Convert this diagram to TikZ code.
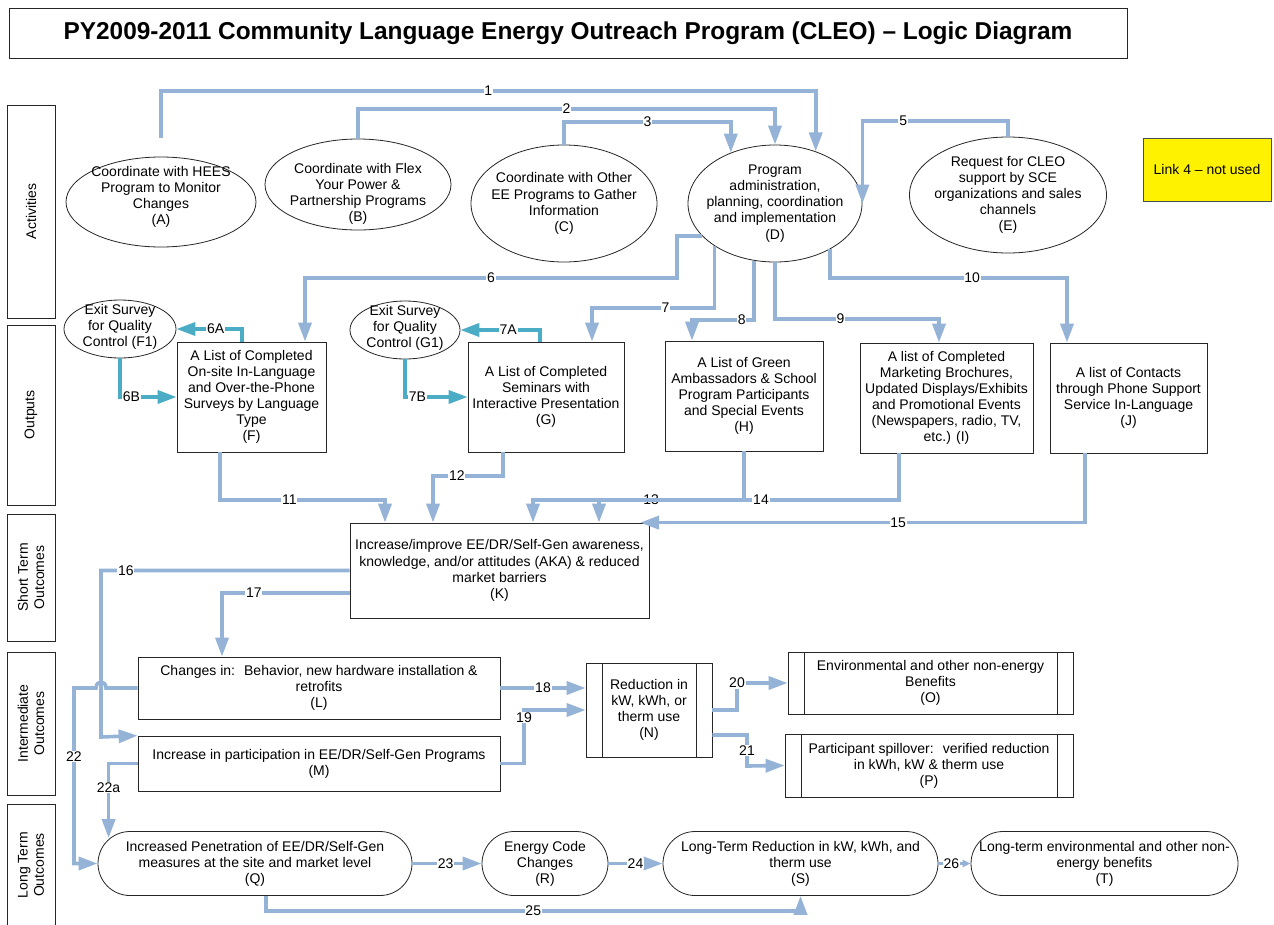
\documentclass[tikz,border=0pt]{standalone}
\usepackage{fontspec}
\setmainfont{Liberation Sans}
\usetikzlibrary{arrows.meta,shapes.geometric,calc}
\tikzset{>={Triangle[length=19pt,width=13pt]}}
\definecolor{linkblue}{RGB}{149,179,215}
\definecolor{qcteal}{RGB}{75,172,198}
\newcommand\diagfont{\fontsize{14}{16.1}\selectfont}
\tikzset{
  actv/.style 2 args={ellipse, draw=black!85, line width=0.8pt, minimum width=#1, minimum height=#2, inner sep=0pt},
  txt/.style={align=center, font=\diagfont, inner sep=0pt},
  outbox/.style 2 args={draw=black!85, line width=0.8pt, minimum width=#1, minimum height=#2, align=center, font=\diagfont, inner sep=2pt},
  proc/.style 2 args={outbox={#1}{#2}, path picture={
      \draw[black!85, line width=0.8pt]
        ([xshift=16pt]path picture bounding box.north west) -- ([xshift=16pt]path picture bounding box.south west)
        ([xshift=-16pt]path picture bounding box.north east) -- ([xshift=-16pt]path picture bounding box.south east);}},
  ltout/.style={outbox={#1}{64pt}, rounded corners=32pt, inner sep=0pt},
  lane/.style={draw=black!85, line width=0.8pt, rotate=90, minimum height=48pt, align=center, font=\diagfont, inner sep=0pt},
  note/.style={draw=black!70, fill=yellow, minimum width=128pt, minimum height=63pt, font=\diagfont},
  link/.style={draw=linkblue, line width=3.6pt, ->},
  qclink/.style={draw=qcteal, line width=3.6pt, ->},
  num/.style={fill=white, inner sep=0.8pt, font=\diagfont, text=black}
}

\begin{document}
\begin{tikzpicture}[x=1pt, y=-1pt]
  \path[use as bounding box, fill=white] (0,0) rectangle (1274,924);

  % title and lanes
  \node[draw=black!85, line width=0.8pt, minimum width=1118pt, minimum height=50pt,
        font=\bfseries\fontsize{24.4}{28}\selectfont] (title) at (568,33)
        {PY2009-2011 Community Language Energy Outreach Program (CLEO) -- Logic Diagram};
  \node[lane, minimum width=213pt] (lane-act) at (31,211.5) {Activities};
  \node[lane, minimum width=180pt] (lane-out) at (31,415) {Outputs};
  \node[lane, minimum width=127pt] (lane-st) at (31,577.5) {Short Term\\Outcomes};
  \node[lane, minimum width=143pt] (lane-int) at (31,723.5) {Intermediate\\Outcomes};
  \node[lane, minimum width=122pt] (lane-lt) at (31,865) {Long Term\\Outcomes};

  % activities
  \node[actv={190pt}{90pt}] (A) at (161,202) {};
  \node[txt] (A-t) at (161,197) {Coordinate with HEES\\Program to Monitor\\Changes\\(A)};
  \node[actv={186pt}{91pt}] (B) at (358,184.5) {};
  \node[txt] (B-t) at (358,194) {Coordinate with Flex\\Your Power \&\\Partnership Programs\\(B)};
  \node[actv={186pt}{117pt}] (C) at (564,203.5) {};
  \node[txt] (C-t) at (C) {Coordinate with Other\\EE Programs to Gather\\Information\\(C)};
  \node[actv={174pt}{117pt}] (D) at (775,203.5) {};
  \node[txt] (D-t) at (D) {Program\\administration,\\planning, coordination\\and implementation\\(D)};
  \node[actv={197pt}{116pt}] (E) at (1008,195) {};
  \node[txt] (E-t) at (E) {Request for CLEO\\support by SCE\\organizations and sales\\channels\\(E)};
  \node[note] (link4) at (1207,169.5) {Link 4 -- not used};

  % outputs
  \node[actv={112pt}{58pt}] (F1) at (120,329) {};
  \node[txt] (F1-t) at (120,327) {Exit Survey\\for Quality\\Control (F1)};
  \node[actv={110pt}{58pt}] (G1) at (405,330) {};
  \node[txt] (G1-t) at (405,328) {Exit Survey\\for Quality\\Control (G1)};
  \node[outbox={149pt}{110pt}] (F) at (251.5,397) {A List of Completed\\On-site In-Language\\and Over-the-Phone\\Surveys by Language\\Type\\(F)};
  \node[outbox={156pt}{110pt}] (G) at (546,397) {A List of Completed\\Seminars with\\Interactive Presentation\\(G)};
  \node[outbox={158pt}{110pt}] (H) at (744,396) {A List of Green\\Ambassadors \& School\\Program Participants\\and Special Events\\(H)};
  \node[outbox={173pt}{110pt}] (I) at (946.5,398) {A list of Completed\\Marketing Brochures,\\Updated Displays/Exhibits\\and Promotional Events\\(Newspapers, radio, TV,\\etc.) (I)};
  \node[outbox={157pt}{110pt}] (J) at (1128.5,398) {A list of Contacts\\through Phone Support\\Service In-Language\\(J)};

  % short term and intermediate outcomes
  \node[outbox={299pt}{95pt}] (K) at (499.5,570.5) {Increase/improve EE/DR/Self-Gen awareness,\\knowledge, and/or attitudes (AKA) \& reduced\\market barriers\\(K)};
  \node[outbox={362pt}{62pt}] (L) at (319,688) {Changes in:~ Behavior, new hardware installation \&\\retrofits\\(L)};
  \node[outbox={362pt}{55pt}] (M) at (319,763.5) {Increase in participation in EE/DR/Self-Gen Programs\\(M)};
  \node[proc={126pt}{94pt}] (N) at (649,710) {Reduction in\\kW, kWh, or\\therm use\\(N)};
  \node[proc={285pt}{62pt}] (O) at (930.5,683) {Environmental and other non-energy\\Benefits\\(O)};
  \node[proc={288pt}{63pt}] (P) at (929,765.5) {Participant spillover:~ verified reduction\\in kWh, kW \& therm use\\(P)};

  % long term outcomes
  \node[ltout=314pt] (Q) at (255,863.5) {Increased Penetration of EE/DR/Self-Gen\\measures at the site and market level\\(Q)};
  \node[ltout=126pt] (R) at (545,863.5) {Energy Code\\Changes\\(R)};
  \node[ltout=275pt] (S) at (800.5,863.5) {Long-Term Reduction in kW, kWh, and\\therm use\\(S)};
  \node[ltout=267pt] (T) at (1104.5,863.5) {Long-term environmental and other non-\\energy benefits\\(T)};

  %% activities -> D
  \draw[link] ([yshift=19pt]A.north) |- node[num,pos=0.75]{1} (D.52 |- 0,91) -- (D.52);
  \draw[link] (B.north) |- node[num,pos=0.75]{2} (D.north |- 0,109) -- (D.north);
  \draw[link] (C.north) |- node[num,pos=0.75]{3} (D.131 |- 0,122) -- (D.131);
  \draw[link] (E.north) |- node[num,pos=0.86]{5} (D.east |- 0,121) -- (D.east);

  %% D -> outputs
  \draw[link] (D.204) -| (677,278) -| node[num,pos=0.25]{6} (F.north -| 305,0);
  \draw[link] (D.215) |- node[num,pos=0.7]{7} (592,308) -- (G.north -| 592,0);
  \draw[link] (D.250) |- node[num,pos=0.6]{8} (692,320) -- (H.north -| 692,0);
  \draw[link] (D.south) |- node[num,pos=0.7]{9} (939,319) -- (I.north -| 939,0);
  \draw[link] (D.320) |- node[num,pos=0.8]{10} (1067,278) -- (J.north -| 1067,0);

  %% exit surveys
  \draw[qclink] (F.north -| 242,0) |- node[num,pos=0.7]{6A} (F1.east);
  \draw[qclink] (F1.south) |- node[num,pos=0.6]{6B} (F.west);
  \draw[qclink] (G.north -| 540,0) |- node[num,pos=0.7]{7A} (G1.east);
  \draw[qclink] (G1.south) |- node[num,pos=0.6]{7B} (G.west);

  %% outputs -> K
  \draw[link] (F.south -| 220,0) |- node[num,pos=0.71]{11} (385,500) -- (K.north -| 385,0);
  \draw[link] (G.south -| 503,0) |- node[num,pos=0.83]{12} (433,476) -- (K.north -| 433,0);
  \draw[link] (H.south) |- node[num,pos=0.72]{13} (533,500) -- (K.north -| 533,0);
  \draw[link] (I.south -| 899,0) |- node[num,pos=0.73]{14} (599,500) -- (K.north -| 599,0);
  \draw[link] (J.south -| 1085,0) |- node[num,pos=0.71]{15} (K.north -| 640,0);

  %% K -> L, M
  \draw[link] (K.west) -| node[num,pos=0.45]{16} (101,737) -- (M.north west);
  \draw[link] (K.west |- 0,593) -| node[num,pos=0.375]{17} (L.north -| 222,0);

  %% L, M -> N -> O, P
  \draw[link] (L.east) -- node[num,pos=0.5]{18} (N.west |- L.east);
  \draw[link] (M.east) -| node[num,pos=0.93]{19} (524,710) -- (N.west);
  \draw[link] (N.east) -| (737,683) node[num]{20} -- (O.west);
  \draw[link] (N.east |- 0,735) -| node[num,pos=0.75]{21} (747,766) -- (P.west);

  %% L, M -> Q (22 hops over 16)
  \draw[link] (L.west) -- (106,688) .. controls (106,680) and (96,680) .. (96,688) -- (74,688)
    -- node[num,pos=0.39]{22} (74,863.5) -- (Q.west);
  \draw[link] (M.west) -| node[num,pos=0.66]{22a} ($(Q.north west)+(11,7)$);

  %% long term chain
  \draw[link] (Q.east) -- node[num,pos=0.48]{23} (R.west);
  \draw[link] (R.east) -- node[num,pos=0.5]{24} (S.west);
  \draw[link] (Q.south -| 266,0) |- node[num,pos=0.75]{25} (S.south |- 0,911) -- (S.south);
  \draw[link, -{Triangle[length=8pt,width=7pt]}] (S.east) -- node[num,pos=0.4]{26} (T.west);

\end{tikzpicture}
\end{document}
